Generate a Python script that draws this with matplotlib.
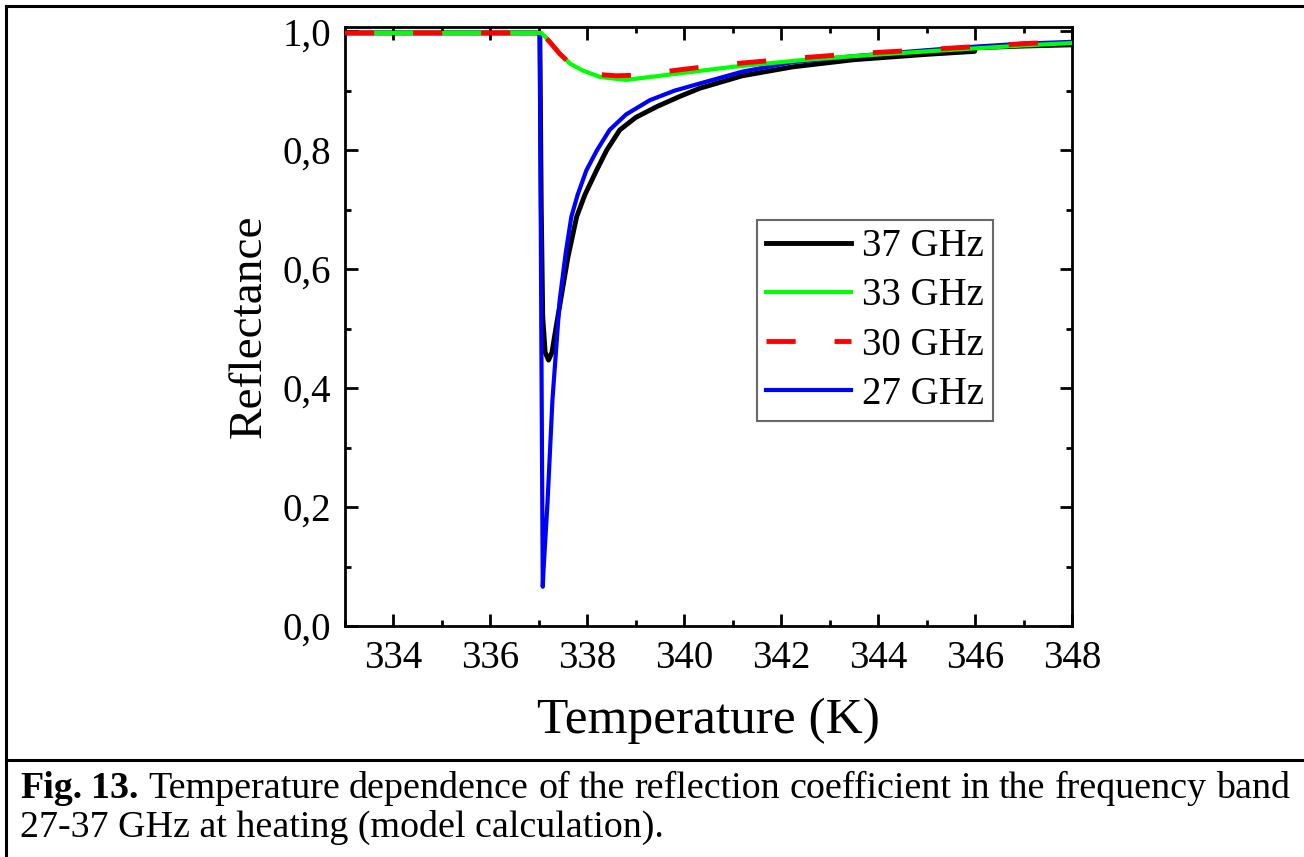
import matplotlib
matplotlib.use('Agg')
import matplotlib.pyplot as plt
from matplotlib.lines import Line2D
from matplotlib.ticker import MultipleLocator, FuncFormatter

plt.rcParams['font.family'] = ['Liberation Serif', 'DejaVu Serif']

# Data (T in K, reflectance)
t_37 = [333, 337.02, 337.05, 337.08, 337.13, 337.2, 337.27, 337.35, 337.45, 337.6,
        337.78, 337.95, 338.19, 338.4, 338.67, 339.0, 339.43, 339.9, 340.32, 341.2,
        342.24, 343.5, 345, 345.99, 346.0, 347, 348]
r_37 = [0.997, 0.997, 0.70, 0.52, 0.46, 0.447, 0.46, 0.50, 0.548, 0.62,
        0.688, 0.725, 0.766, 0.800, 0.834, 0.855, 0.873, 0.890, 0.904, 0.925,
        0.940, 0.952, 0.961, 0.966, 0.972, 0.975, 0.977]

t_33 = [333, 337.05, 337.2, 337.43, 337.65, 337.9, 338.26, 338.8, 339.6, 340.3,
        341.0, 342.38, 343.5, 345, 346, 347, 348]
r_33 = [0.997, 0.997, 0.985, 0.963, 0.945, 0.934, 0.923, 0.918, 0.926, 0.933,
        0.940, 0.951, 0.958, 0.966, 0.971, 0.976, 0.980]

t_30 = [333, 337.05, 337.2, 337.43, 337.65, 337.9, 338.26, 338.6, 339.0, 339.6,
        340.3, 341.0, 342.38, 343.5, 345, 346, 347, 348]
r_30 = [0.997, 0.997, 0.984, 0.962, 0.945, 0.935, 0.927, 0.925, 0.926, 0.932,
        0.939, 0.945, 0.955, 0.962, 0.969, 0.974, 0.979, 0.983]

t_27 = [333, 337.02, 337.05, 337.08, 337.10, 337.18, 337.28, 337.43, 337.55, 337.67,
        337.8, 337.98, 338.2, 338.46, 338.8, 339.29, 339.8, 340.32, 341.2, 342.24,
        343.5, 345, 346, 347, 348]
r_27 = [0.997, 0.997, 0.50, 0.066, 0.10, 0.21, 0.38, 0.548, 0.625, 0.688,
        0.725, 0.766, 0.800, 0.834, 0.860, 0.884, 0.900, 0.912, 0.932, 0.948,
        0.958, 0.968, 0.974, 0.979, 0.982]

labels = ['37 GHz', '33 GHz', '30 GHz', '27 GHz']

caption_bold = ['Fig.', '13.']
caption_line1 = ('Temperature dependence of the reflection coefficient '
                 'in the frequency band').split()
caption_line2 = '27-37 GHz at heating (model calculation).'

W, H = 1304, 857
fig = plt.figure(figsize=(W / 100, H / 100), dpi=100)
ax = fig.add_axes([345 / W, 1 - 626 / H, 727 / W, 599 / H])

ax.plot(t_37, r_37, color='black', lw=3.5, label=labels[0], zorder=2)
ax.plot(t_33, r_33, color='#00ff00', lw=3.0, label=labels[1], zorder=4)
ax.plot(t_30, r_30, color='red', lw=3.5, ls=(0, (6, 8)), label=labels[2], zorder=5)
ax.plot(t_27, r_27, color='blue', lw=3.0, label=labels[3], zorder=3)

ax.set_xlim(333, 348)
ax.set_ylim(0, 1.007)
ax.xaxis.set_major_locator(MultipleLocator(2))
ax.xaxis.set_minor_locator(MultipleLocator(1))
ax.yaxis.set_major_locator(MultipleLocator(0.2))
ax.yaxis.set_minor_locator(MultipleLocator(0.1))
ax.yaxis.set_major_formatter(FuncFormatter(lambda v, p: f'{v:.1f}'.replace('.', ',')))

ax.tick_params(which='both', direction='in', top=True, right=True, width=2,
               labelsize=28, color='black')
ax.tick_params(which='major', length=9, pad=10)
ax.tick_params(which='minor', length=4.5)
for s in ax.spines.values():
    s.set_linewidth(2)

ax.set_xlabel('Temperature (K)', fontsize=37, labelpad=15)
ax.set_ylabel('Reflectance', fontsize=34, labelpad=8.5)

leg = ax.legend(loc='upper left', bbox_to_anchor=(0.567, 0.678), fontsize=28,
                frameon=True, fancybox=False, edgecolor='#444444',
                handlelength=2.2, handletextpad=0.28, labelspacing=0.31,
                borderpad=0.22, borderaxespad=0)
leg.get_frame().set_linewidth(1.5)

# outer frame and caption separator
fig.add_artist(Line2D([6 / W, 6 / W], [0, 1 - 6 / H], transform=fig.transFigure,
                      color='black', lw=2.2))
fig.add_artist(Line2D([6 / W, 1], [1 - 6 / H, 1 - 6 / H], transform=fig.transFigure,
                      color='black', lw=2.2))
fig.add_artist(Line2D([6 / W, 1], [1 - 760 / H, 1 - 760 / H], transform=fig.transFigure,
                      color='black', lw=2.2))

# caption, first line justified between x=20 and x=1290
cap_size = 27.4
words = []
for w in caption_bold:
    words.append(fig.text(0, 1 - 798 / H, w, fontsize=cap_size, fontweight='bold',
                          va='baseline'))
for w in caption_line1:
    words.append(fig.text(0, 1 - 798 / H, w, fontsize=cap_size, va='baseline'))
fig.canvas.draw()
renderer = fig.canvas.get_renderer()
widths = [t.get_window_extent(renderer).width for t in words]
gap = (1290 - 20 - sum(widths)) / (len(words) - 1)
x = 20
for t, wd in zip(words, widths):
    t.set_x(x / W)
    x += wd + gap

fig.text(20 / W, 1 - 837 / H, caption_line2, fontsize=cap_size, va='baseline', ha='left')

fig.savefig('out.png', dpi=100)
